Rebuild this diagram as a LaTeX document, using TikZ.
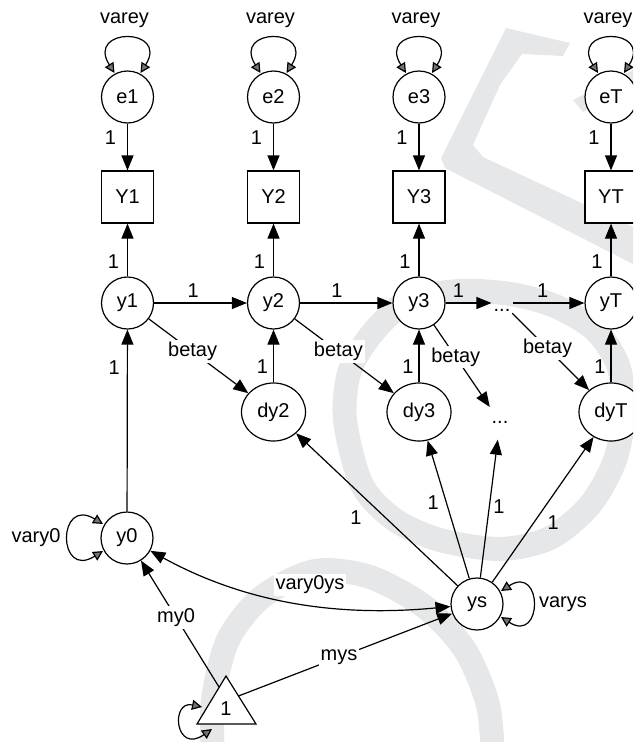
\documentclass[tikz,border=0pt]{standalone}
\usepackage{fontspec}
\setmainfont{Liberation Sans}
\usetikzlibrary{arrows.meta,shapes.geometric,calc}
\definecolor{wm}{HTML}{E6E7E8}
\begin{document}
\begin{tikzpicture}[x=1pt,y=-1pt,font=\fontsize{20}{24}\selectfont,
 lat/.style={circle,draw,line width=1.2pt,fill=white,minimum size=52pt,inner sep=0pt},
 dlat/.style={ellipse,draw,line width=1.2pt,fill=white,minimum width=64pt,minimum height=58pt,inner sep=0pt},
 obs/.style={rectangle,draw,line width=1.2pt,fill=white,minimum size=52pt,inner sep=0pt},
 pth/.style={-{Triangle[length=15pt,width=12pt]},line width=1.2pt},
 bth/.style={{Triangle[length=15pt,width=12pt]}-{Triangle[length=15pt,width=12pt]},line width=1.2pt},
 cov/.style={{Triangle[length=10pt,width=10pt,fill=black!55]}-{Triangle[length=10pt,width=10pt,fill=black!55]},line width=1.2pt},
 lbl/.style={inner sep=1pt},
 lblw/.style={fill=white,inner sep=2pt},
 ellip/.style={inner sep=0pt,minimum width=20pt,minimum height=35pt}
]
\useasboundingbox (0,0) rectangle (633,742);
\clip (0,0) rectangle (633,742);
% watermark
\fill[wm] (506,28) -- (570,43) -- (563,56) -- (522,54) -- (500,85) -- (473,145) -- (483,157) -- (633,227) -- (633,264) -- (445,168) -- (441,158) -- cycle;
\fill[wm] (573,100) -- (633,70) -- (633,92) -- (583,112) -- cycle;
\draw[wm,line width=24pt] plot[smooth cycle] coordinates {(345,420) (350,370) (375,330) (410,300) (460,291) (510,294) (555,306) (595,330) (618,365) (624,410) (615,460) (590,505) (550,538) (500,549) (440,540) (395,520) (362,485)};
\draw[wm,line width=24pt] plot[smooth] coordinates {(213,760) (213,700) (228,640) (262,597) (315,571) (370,577) (425,607) (465,650) (488,705) (493,760)};
% nodes
\foreach \i/\x in {1/127.5,2/273.5,3/419,T/611}{
  \node (v\i) at (\x-3,20) {varey};
  \node[lat] (e\i) at (\x,97) {e\i};
  \node[obs] (Y\i) at (\x,197) {Y\i};
  \node[lat] (y\i) at (\x,303) {y\i};
}
\foreach \i/\x in {2/273.5,3/419,T/611}{
  \node[dlat] (dy\i) at (\x,412) {dy\i};
}
\node[inner sep=2pt,text height=16pt,text depth=0pt] (dA) at (502,303) {...};
\node[ellip] (dB) at (500,422) {...};
\node[lat] (y0) at (127,538) {y0};
\node (vy0) at (36,538) {vary0};
\node[lat] (ys) at (477,604) {ys};
\node (vys) at (563,604) {varys};
\draw[line width=1.2pt,fill=white] (226,676) -- (256,724) -- (197,724) -- cycle;
\node (one) at (226,709) {1};
\coordinate (tL) at (219,687);
\coordinate (tR) at (238.5,696);
% edges
\foreach \i in {1,2,3,T}{
  \draw[pth] (e\i) -- node[lbl,pos=0.31,left=10pt] {1} (Y\i);
  \draw[pth] (y\i) -- node[lbl,pos=0.28,left=7pt] {1} (Y\i);
  \draw[cov] ($(e\i.center)+(-13,-24)$) .. controls ($(e\i.center)+(-42,-70)$) and ($(e\i.center)+(42,-70)$) .. ($(e\i.center)+(13,-24)$);
}
\foreach \i in {2,3,T}{
  \draw[pth] (dy\i) -- node[lbl,pos=0.3,left=4pt] {1} (y\i);
}
\draw[pth] (y1) -- node[lbl,pos=0.42,above=4pt]{1} (y2);
\draw[pth] (y2) -- node[lbl,pos=0.4,above=4pt]{1} (y3);
\draw[pth] (y3) -- node[lbl,pos=0.28,above=4pt]{1} (dA);
\draw[pth] (dA) -- node[lbl,pos=0.42,above=4pt]{1} (yT);
\draw[pth] (y1) -- node[lblw,pos=0.44]{betay} (dy2);
\draw[pth] (y2) -- node[lblw,pos=0.44]{betay} (dy3);
\draw[pth] (y3) -- node[lblw,pos=0.39]{betay} (dB);
\draw[pth] (dA) -- node[lblw,pos=0.46]{betay} (dyT);
\draw[pth] (ys) -- node[lbl,pos=0.545,xshift=-13.8pt,yshift=-14.8pt]{1} (dy2);
\draw[pth] (ys) -- node[lbl,pos=0.578,xshift=-12pt,yshift=-4pt]{1} (dy3);
\draw[pth] (ys) -- node[lbl,pos=0.523,xshift=9.6pt,yshift=-1.2pt]{1} (dB);
\draw[pth] (ys) -- node[lbl,pos=0.475,xshift=12.9pt,yshift=-9pt]{1} (dyT);
\draw[pth] (y0) -- node[lbl,pos=0.79,left=6pt]{1} (y1);
\draw[bth] (y0) .. controls (240,600) and (330,618) .. (ys);
\node[lblw] (lv) at (310,585) {vary0ys};
\draw[cov] ($(y0.center)+(-24,-14)$) .. controls ($(y0.center)+(-70,-42)$) and ($(y0.center)+(-70,42)$) .. ($(y0.center)+(-24,13)$);
\draw[cov] ($(ys.center)+(24,-13)$) .. controls ($(ys.center)+(66,-40)$) and ($(ys.center)+(66,40)$) .. ($(ys.center)+(24,13)$);
\draw[pth] (tL) -- node[lblw,pos=0.55]{my0} (y0);
\draw[pth] (tR) -- node[lblw,pos=0.47]{mys} (ys);
\draw[cov] (202,707) .. controls (170,700) and (175,755) .. (212,729);
\end{tikzpicture}
\end{document}
